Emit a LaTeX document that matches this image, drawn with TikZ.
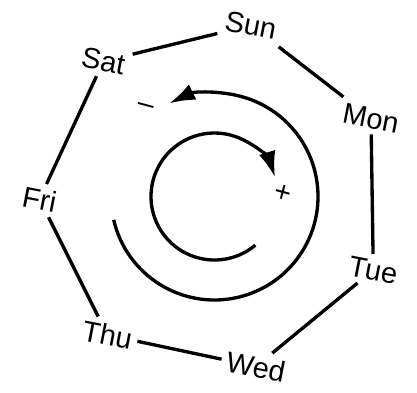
\documentclass[tikz,border=0pt]{standalone}
\usepackage{fontspec}
\setmainfont{Liberation Sans}
\usetikzlibrary{arrows.meta}

\begin{document}
\begin{tikzpicture}[
  font=\fontsize{16.5}{18}\selectfont,
  day/.style  = {inner sep=3pt, rotate=-11},
  side/.style = {line width=1.9pt},
  arr/.style  = {-{Latex[length=5.2mm,width=3.4mm]}, line width=1.9pt},
  sgn/.style  = {inner sep=1pt, rotate=-15}
]
\useasboundingbox (0,0) rectangle (8.34,7.84);
\coordinate (c) at (4.29,3.91);
%% -- Days round the heptagon --
\foreach \nd/\lb [count=\i from 0] in {sun/Sun,mon/Mon,tue/Tue,wed/Wed,thu/Thu,fri/Fri,sat/Sat}{
  \node[day] (\nd) at ([shift={(78-\i*51.43:3.5)}]c) {\lb};}
%% -- Sides --
\foreach \a/\b in {sun/mon,mon/tue,tue/wed,wed/thu,thu/fri,fri/sat,sat/sun}
  \draw[side] (\a) -- (\b);
%% -- Turning arrows --
\draw[arr] ([shift={(-167:2.07)}]c) arc[start angle=-167, end angle=116, radius=2.07];
\draw[arr] ([shift={(310:1.27)}]c) arc[start angle=310, end angle=17.6, radius=1.27];
\node[sgn] (minus) at ([shift={(-1.38,1.75)}]c) {–};
\node[sgn] (plus)  at ([shift={(1.36,0.05)}]c) {+};
\end{tikzpicture}
\end{document}
